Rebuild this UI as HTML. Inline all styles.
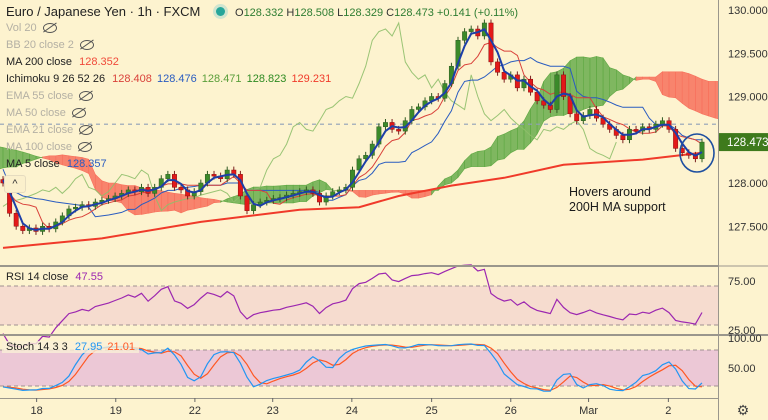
<!DOCTYPE html>
<html><head><meta charset="utf-8"><style>
html,body{margin:0;padding:0;background:#fdf3cf;}
body{width:768px;height:420px;overflow:hidden;font-family:"Liberation Sans",sans-serif;position:relative;}
svg{position:absolute;left:0;top:0;}
.lg{position:absolute;left:6px;font-size:11px;color:#222;white-space:nowrap;}
.mut{color:#b4b0a4;}
.eye{display:inline-block;width:12px;height:8px;border:1.3px solid #555;border-radius:50%;vertical-align:middle;margin-left:6px;position:relative;}
.eye:after{content:"";position:absolute;left:-2px;top:3px;width:16px;height:1.3px;background:#555;transform:rotate(-35deg);}
</style></head><body>
<svg id="chart" width="768" height="420"></svg>

<div class="lg" style="top:4px;font-size:13px;color:#222">Euro / Japanese Yen · 1h · FXCM <span style="display:inline-block;width:9px;height:9px;border-radius:50%;background:#26a69a;margin:0 10px 0 12px;box-shadow:0 0 0 3px #cfe5cf"></span><span style="font-size:11px;color:#2e7d32"><span style="color:#333">O</span>128.332 <span style="color:#333">H</span>128.508 <span style="color:#333">L</span>128.329 <span style="color:#333">C</span>128.473 +0.141 (+0.11%)</span></div>
<div class="lg mut" style="top:22px">Vol 20<span class="eye"></span></div>
<div class="lg mut" style="top:39px">BB 20 close 2<span class="eye"></span></div>
<div class="lg" style="top:56px">MA 200 close <span style="color:#f04a3a;margin-left:4px">128.352</span></div>
<div class="lg" style="top:73px">Ichimoku 9 26 52 26 <span style="color:#d9413a;margin-left:4px">128.408</span> <span style="color:#2a5cc0;margin-left:2px">128.476</span> <span style="color:#5a9e3a;margin-left:2px">128.471</span> <span style="color:#2e8b22;margin-left:2px">128.823</span> <span style="color:#f03a2a;margin-left:2px">129.231</span></div>
<div class="lg mut" style="top:90px">EMA 55 close<span class="eye"></span></div>
<div class="lg mut" style="top:107px">MA 50 close<span class="eye"></span></div>
<div class="lg mut" style="top:124px">EMA 21 close<span class="eye"></span></div>
<div class="lg mut" style="top:141px">MA 100 close<span class="eye"></span></div>
<div class="lg" style="top:158px">MA 5 close <span style="color:#2a5cc0;margin-left:4px">128.357</span></div>
<div style="position:absolute;left:4px;top:175px;width:20px;height:16px;border:1px solid #e6dcc0;border-radius:3px;background:#fbf0cc;font-size:11px;text-align:center;line-height:16px;color:#333">^</div>
<div class="lg" style="top:271px">RSI 14 close <span style="color:#9c27b0;margin-left:4px">47.55</span></div>
<div class="lg" style="top:341px;background:rgba(250,240,215,0.8);padding:0 4px;left:2px">Stoch 14 3 3 <span style="color:#2196f3;margin-left:4px">27.95</span> <span style="color:#ff5722;margin-left:2px">21.01</span></div>

<script>
// ---- data ----
const historyCloses=[127.75,127.80,127.85,127.82,127.90,127.95,128.00,128.05,128.10,128.08,128.15,128.20,128.25,128.30,128.35,128.40,128.45,128.50,128.55,128.52,128.48,128.50,128.45,128.42,128.40,128.38,128.35,128.32,128.30,128.28,128.25,128.22,128.20,128.18,128.15,128.12,128.10,128.08,128.06,128.04];
const closes=[128.00,127.65,127.50,127.45,127.48,127.44,127.50,127.47,127.55,127.62,127.70,127.72,127.75,127.73,127.78,127.80,127.82,127.85,127.88,127.92,127.90,127.95,127.88,127.95,128.05,128.10,127.95,127.92,127.85,127.90,128.00,128.10,128.08,128.05,128.15,128.10,127.85,127.68,127.75,127.78,127.80,127.82,127.83,127.86,127.88,127.90,127.92,127.88,127.78,127.85,127.90,127.92,127.95,128.15,128.28,128.32,128.45,128.65,128.70,128.62,128.60,128.72,128.85,128.88,128.95,129.00,128.98,129.15,129.35,129.65,129.75,129.78,129.70,129.85,129.40,129.28,129.20,129.25,129.10,129.20,129.05,128.95,128.90,128.85,129.25,129.00,128.80,128.72,128.78,128.85,128.75,128.68,128.62,128.55,128.50,128.62,128.60,128.65,128.62,128.68,128.72,128.62,128.40,128.35,128.32,128.28,128.473];
const ma200Bars=[0,15,30,45,54,60,68,76,85,97,106];
const ma200Vals=[127.25,127.36,127.55,127.69,127.72,127.85,127.97,128.06,128.21,128.27,128.35];
const priceTicks=[130,129.5,129,128,127.5];
const priceTickLabels=["130.000","129.500","129.000","128.000","127.500"];
const dayLabels=["18","19","22","23","24","25","26","Mar","2"];
const dayBars=[5.1,17.1,29.1,40.9,52.9,65,77,88.8,100.9];
const lastPrice=128.473, refLine=128.68;

// ---- scales ----
const NS="http://www.w3.org/2000/svg";
const svg=document.getElementById('chart');
const N=closes.length, step=(702-3)/(N-1);
const X=i=>3+i*step;
const Y=p=>10+(130-p)*86.5;
const YR=v=>286+(70-v)*(325-286)/40;
const YS=v=>398-v*0.6;
function el(tag,attrs,parent){const e=document.createElementNS(NS,tag);for(const k in attrs)e.setAttribute(k,attrs[k]);(parent||svg).appendChild(e);return e;}
function pathOf(pts){return pts.map((p,i)=>(i?'L':'M')+p[0].toFixed(1)+' '+p[1].toFixed(1)).join(' ');}

const defs=el('defs',{});
const cp=el('clipPath',{id:'mainclip'},defs);el('rect',{x:0,y:0,width:718,height:265},cp);
const mainG=el('g',{'clip-path':'url(#mainclip)'});



const rsiBand=el('rect',{x:0,y:YR(70),width:718,height:YR(30)-YR(70),fill:'#f6dccf'});


const stBand=el('rect',{x:0,y:YS(80),width:718,height:YS(20)-YS(80),fill:'#ecc8d6'});


[[YR(70)],[YR(30)],[YS(80)],[YS(20)]].forEach(v=>{const l=el('line',{x1:0,x2:718,y1:v[0],y2:v[0],stroke:'#a09090','stroke-dasharray':'4 3','stroke-width':1});

});

const all=historyCloses.concat(closes), H=historyCloses.length;
const op=k=>k>0?all[k-1]:all[k];
const hi=k=>Math.max(op(k),all[k])+0.04, lo=k=>Math.min(op(k),all[k])-0.04;
function mid(k,p){let a=-1e9,b=1e9;for(let j=Math.max(0,k-p+1);j<=k;j++){a=Math.max(a,hi(j));b=Math.min(b,lo(j));}return (a+b)/2;}
const disp=13;
const cloud=[];
for(let d=-5;d<N+disp;d++){const k=H+d-disp;if(k<0)continue;const A=(mid(k,5)+mid(k,13))/2,B=mid(k,26);cloud.push([d,A,B]);}
for(let j=0;j<cloud.length-1;j++){const [d0,a0,b0]=cloud[j],[d1,a1,b1]=cloud[j+1];
 const up=(a0+a1)>=(b0+b1);
 const q=el('path',{d:pathOf([[X(d0),Y(a0)],[X(d1),Y(a1)],[X(d1),Y(b1)],[X(d0),Y(b0)]])+'Z',fill:up?'#5fa843':'#f7705c','fill-opacity':up?0.8:0.85,stroke:up?'#5fa843':'#f7705c','stroke-width':0.6},mainG);
 
 }
const rl=el('line',{x1:0,x2:718,y1:Y(refLine),y2:Y(refLine),stroke:'#8fa0b8','stroke-dasharray':'4 4','stroke-width':1.1},mainG);


const ch=[];for(let i=disp;i<N;i++)ch.push([X(i-disp),Y(closes[i])]);
const chk=el('path',{d:pathOf(ch),fill:'none',stroke:'#8fbf6a','stroke-width':1,'stroke-opacity':0.9},mainG);


const tk=[],kj=[];for(let i=0;i<N;i++){tk.push([X(i),Y(mid(H+i,5))]);kj.push([X(i),Y(mid(H+i,13))]);}
const kjl=el('path',{d:pathOf(kj),fill:'none',stroke:'#2a5cc0','stroke-width':1},mainG);


const tkl=el('path',{d:pathOf(tk),fill:'none',stroke:'#d9413a','stroke-width':1},mainG);


const m2=ma200Bars.map((b,j)=>[X(b),Y(ma200Vals[j])]);
const m2l=el('path',{d:pathOf(m2),fill:'none',stroke:'#f03a2a','stroke-width':2},mainG);


for(let i=0;i<N;i++){const k=H+i,o=op(k),c=all[k],up=c>=o,col=up?'#3b8a2a':'#e31919';
 const g=el('g',{},mainG);
 
 
 el('line',{x1:X(i),x2:X(i),y1:Y(hi(k)),y2:Y(lo(k)),stroke:up?'#2f5a22':'#7a2020','stroke-width':1},g);
 const t=Y(Math.max(o,c)),b=Y(Math.min(o,c));
 el('rect',{x:X(i)-2.2,y:t,width:4.4,height:Math.max(1,b-t),fill:col,stroke:up?'#2f5a22':'#8a1010','stroke-width':0.5},g);}
const m5=[];for(let i=0;i<N;i++){let s=0;for(let j=0;j<3;j++)s+=all[H+i-j];m5.push([X(i),Y(s/3)]);}
const m5l=el('path',{d:pathOf(m5),fill:'none',stroke:'#1d3fa8','stroke-width':2},mainG);


const circ=el('ellipse',{cx:697,cy:153,rx:17,ry:19,fill:'none',stroke:'#1e4fa0','stroke-width':1.6});


const at=el('text',{x:569,y:196,'font-size':12.5,fill:'#1a1a1a','font-family':'Liberation Sans, sans-serif'});


at.innerHTML='<tspan x="569">Hovers around</tspan><tspan x="569" dy="15">200H MA support</tspan>';

// RSI (Wilder, smoother period)
let ag=0,al=0;const rsi=[];const rp=12;
for(let k=1;k<all.length;k++){const d=all[k]-all[k-1];ag=(ag*(rp-1)+Math.max(d,0))/rp;al=(al*(rp-1)+Math.max(-d,0))/rp;
 if(k>=H){const r=al===0?100:100-100/(1+ag/al);rsi.push([X(k-H),YR(r)]);}}
const rl2=el('path',{d:pathOf(rsi),fill:'none',stroke:'#9c27b0','stroke-width':1.2});


// Stoch
const raw=[];for(let k=0;k<all.length;k++){let a=-1e9,b=1e9;for(let j=Math.max(0,k-9);j<=k;j++){a=Math.max(a,hi(j));b=Math.min(b,lo(j));}raw.push(100*(all[k]-b)/(a-b));}
const K=raw.map((v,k)=>k>1?(v+raw[k-1]+raw[k-2])/3:v), D=K.map((v,k)=>k>1?(v+K[k-1]+K[k-2])/3:v);
const kp=[],dp=[];for(let i=0;i<N;i++){kp.push([X(i),YS(8+K[H+i]*0.85)]);dp.push([X(i),YS(8+D[H+i]*0.85)]);}
const dl=el('path',{d:pathOf(dp),fill:'none',stroke:'#ff5722','stroke-width':1.2});


const kl=el('path',{d:pathOf(kp),fill:'none',stroke:'#2196f3','stroke-width':1.2});



[[0,266,718,266,2],[0,335,768,335,2],[0,398.5,718,398.5,1],[718.5,0,718.5,420,1]].forEach(s=>{const l=el('line',{x1:s[0],y1:s[1],x2:s[2],y2:s[3],stroke:'#9a968c','stroke-width':s[4]});

});
el('line',{x1:718,x2:768,y1:266,y2:266,stroke:'#9a968c','stroke-width':1});
priceTicks.forEach((p,j)=>{const t=el('text',{x:728,y:Y(p)+4,'font-size':11,fill:'#333'});t.textContent=priceTickLabels[j];

});
const lp=el('rect',{x:719,y:Y(lastPrice)-9,width:49,height:18,fill:'#3e7a1c'});


const lpt=el('text',{x:727,y:Y(lastPrice)+4,'font-size':11.5,fill:'#fff'});lpt.textContent=lastPrice.toFixed(3);


[['75.00',YR(75)+4],['25.00',YR(25)+4],['100.00',YS(100)+4],['50.00',YS(50)+4]].forEach(a=>{const t=el('text',{x:728,y:a[1],'font-size':11,fill:'#333'});t.textContent=a[0];

});
dayLabels.forEach((d,j)=>{const x=X(dayBars[j]);el('line',{x1:x,x2:x,y1:398,y2:402,stroke:'#666'});
const t=el('text',{x:x,y:414,'font-size':11,fill:'#333','text-anchor':'middle'});t.textContent=d;

});
const gear=el('text',{x:743,y:415,'font-size':14,fill:'#444','text-anchor':'middle'});gear.textContent='⚙';


</script>
</body></html>
